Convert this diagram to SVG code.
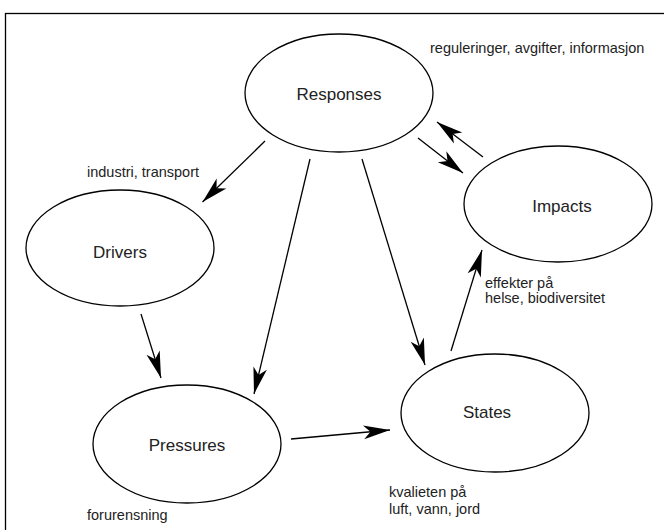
<svg xmlns="http://www.w3.org/2000/svg" width="664" height="530" viewBox="0 0 664 530">
<defs>
<style>
.node ellipse{fill:#fff;stroke:#000;stroke-width:1.3}
.node text{font-family:"Liberation Sans",Arial,sans-serif;font-size:17px;fill:#222;text-anchor:middle}
.lbl{font-family:"Liberation Sans",Arial,sans-serif;font-size:14.5px;fill:#222}
.conn line{stroke:#000;stroke-width:1.3;marker-end:url(#ah)}
</style>
<marker id="ah" markerUnits="userSpaceOnUse" markerWidth="30" markerHeight="20" viewBox="-24 -8 26 16" refX="0" refY="0" orient="auto">
<path d="M0,0 L-23,-6 L-17,0 L-23,6 Z" fill="#000"/>
</marker>
</defs>
<rect x="0" y="0" width="664" height="530" fill="#fff"/>
<rect x="5.5" y="13.5" width="700" height="560" fill="none" stroke="#000" stroke-width="1.3"/>
<g class="conn">
<line x1="265" y1="141" x2="202.5" y2="202"/>
<line x1="310" y1="159" x2="254" y2="394"/>
<line x1="362" y1="159" x2="425" y2="365"/>
<line x1="141" y1="314" x2="161" y2="378"/>
<line x1="291" y1="439" x2="390" y2="430"/>
<line x1="451" y1="351" x2="482" y2="250"/>
<line x1="418" y1="138" x2="463" y2="173"/>
<line x1="483" y1="157" x2="437" y2="122"/>
</g>
<g id="responses" class="node"><ellipse cx="339" cy="93" rx="94" ry="59"/><text x="339" y="100">Responses</text></g>
<g id="drivers" class="node"><ellipse cx="120" cy="248" rx="94" ry="58"/><text x="120" y="258">Drivers</text></g>
<g id="impacts" class="node"><ellipse cx="558" cy="204" rx="94" ry="58"/><text x="562" y="212">Impacts</text></g>
<g id="pressures" class="node"><ellipse cx="187" cy="444" rx="94" ry="59"/><text x="187" y="451">Pressures</text></g>
<g id="states" class="node"><ellipse cx="495" cy="413" rx="94" ry="59"/><text x="487" y="418">States</text></g>
<text class="lbl" x="430" y="52.5">reguleringer, avgifter, informasjon</text>
<text class="lbl" x="87" y="177">industri, transport</text>
<text class="lbl" x="485" y="288">effekter på</text>
<text class="lbl" x="485" y="303">helse, biodiversitet</text>
<text class="lbl" x="389" y="497">kvalieten på</text>
<text class="lbl" x="389" y="514">luft, vann, jord</text>
<text class="lbl" x="87" y="520">forurensning</text>
</svg>
